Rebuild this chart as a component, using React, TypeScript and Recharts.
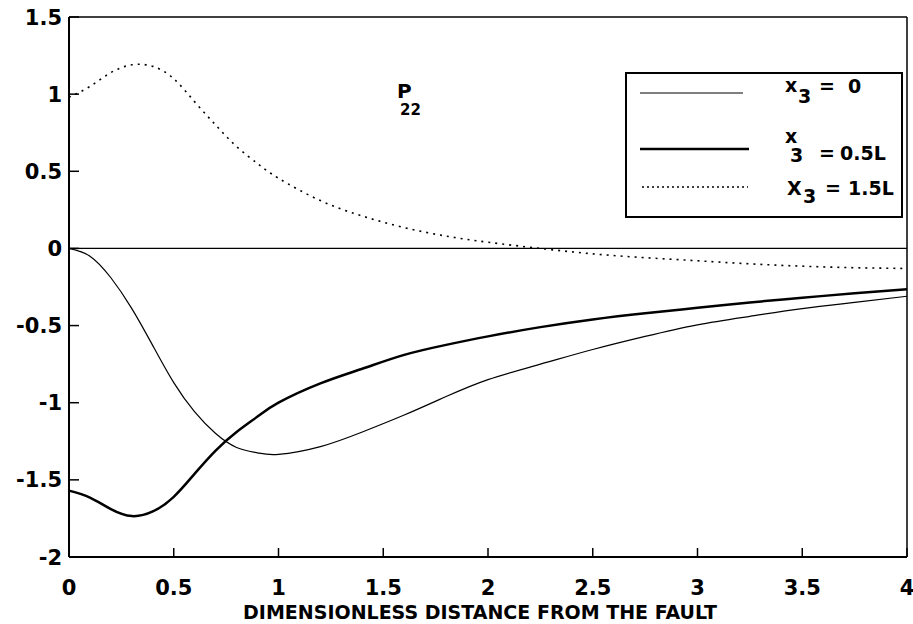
import React from "react";
import { Label, Legend, Line, LineChart, ReferenceLine, XAxis, YAxis } from "recharts";

// distance from the fault (dimensionless)
const distance = [0, 0.1, 0.2, 0.3, 0.4, 0.5, 0.6, 0.7, 0.8, 0.9, 1.0, 1.2, 1.4, 1.6, 1.8, 2.0, 2.25, 2.5, 2.75, 3.0, 3.25, 3.5, 3.75, 4.0];

// P22 at x3 = 0
const p22Surface = [0, -0.05, -0.19, -0.39, -0.63, -0.87, -1.06, -1.2, -1.29, -1.325, -1.335, -1.285, -1.19, -1.08, -0.96, -0.85, -0.75, -0.655, -0.57, -0.495, -0.44, -0.39, -0.35, -0.31];
// P22 at x3 = 0.5L
const p22Half = [-1.57, -1.615, -1.69, -1.735, -1.705, -1.61, -1.46, -1.31, -1.19, -1.09, -1.0, -0.875, -0.78, -0.69, -0.625, -0.57, -0.51, -0.46, -0.42, -0.385, -0.35, -0.32, -0.29, -0.265];
// P22 at x3 = 1.5L
const p22OneHalf = [0.98, 1.05, 1.14, 1.19, 1.18, 1.1, 0.95, 0.8, 0.66, 0.55, 0.455, 0.31, 0.21, 0.135, 0.08, 0.04, 0.0, -0.035, -0.06, -0.08, -0.1, -0.115, -0.125, -0.13];

const xTicks = [0, 0.5, 1, 1.5, 2, 2.5, 3, 3.5, 4];
const yTicks = [1.5, 1, 0.5, 0, -0.5, -1, -1.5, -2];

const legendSymbols = ["x", "x", "X"];
const legendValues = ["0", "0.5L", "1.5L"];

const rows = distance.map((x, i) => ({
  x,
  surface: p22Surface[i],
  half: p22Half[i],
  oneHalf: p22OneHalf[i],
}));

const FONT = "'DejaVu Sans', Arial, sans-serif";

const XTick = (props: any) => {
  const { x, y, payload } = props;
  return (
    <g>
      <line x1={x} x2={x} y1={y} y2={y - 9} stroke="#000" strokeWidth={1.5} />
      <text x={x} y={y + 38} textAnchor="middle" fontFamily={FONT} fontWeight="bold" fontSize={21} fill="#000">
        {String(payload.value)}
      </text>
    </g>
  );
};

const YTick = (props: any) => {
  const { x, y, payload } = props;
  return (
    <g>
      <line x1={x} x2={x + 10} y1={y} y2={y} stroke="#000" strokeWidth={1.5} />
      <text x={x - 7} y={y + 7.5} textAnchor="end" fontFamily={FONT} fontWeight="bold" fontSize={21} fill="#000">
        {String(payload.value)}
      </text>
    </g>
  );
};

const legendRows = [
  { lineY: 21, x1: 15, x2: 118, sym: [160, 20], sub: [173, 31], eq: [194, 21], val: [223, 21], width: 1.2, dash: undefined },
  { lineY: 77, x1: 15, x2: 124, sym: [160, 71], sub: [165, 90], eq: [194, 88], val: [215, 88], width: 2.5, dash: undefined },
  { lineY: 115, x1: 17, x2: 123, sym: [162, 123], sub: [178, 131], eq: [200, 123], val: [223, 123], width: 1.3, dash: "2 3" },
];

const LegendBox = () => (
  <svg width={278} height={146} style={{ display: "block" }}>
    <rect x={1} y={1} width={276} height={144} fill="#fff" stroke="#000" strokeWidth={2} />
    {legendRows.map((r, i) => (
      <g key={i} fontFamily={FONT} fontWeight="bold" fontSize={19} fill="#000">
        <line x1={r.x1} x2={r.x2} y1={r.lineY} y2={r.lineY} stroke="#000" strokeWidth={r.width} strokeDasharray={r.dash} />
        <text x={r.sym[0]} y={r.sym[1]}>{legendSymbols[i]}</text>
        <text x={r.sub[0]} y={r.sub[1]}>3</text>
        <text x={r.eq[0]} y={r.eq[1]}>=</text>
        <text x={r.val[0]} y={r.val[1]}>{legendValues[i]}</text>
      </g>
    ))}
  </svg>
);

export default function App() {
  return (
    <div style={{ position: "absolute", left: 0, top: 0, width: 913, height: 624, background: "#fff" }}>
      <LineChart width={913} height={624} data={rows} margin={{ top: 16, right: 5, bottom: 7, left: 68 }}>
        <XAxis
          dataKey="x"
          type="number"
          domain={[0, 4]}
          ticks={xTicks}
          height={60}
          tickSize={0}
          tickMargin={0}
          tickLine={false}
          tick={<XTick />}
          axisLine={{ stroke: "#000", strokeWidth: 2 }}
          label={
            <Label
              content={(p: any) => {
                const { x, y, width } = p.viewBox;
                return (
                  <text x={x + width / 2 - 8} y={y + 62} textAnchor="middle" fontFamily={FONT} fontWeight="bold" fontSize={19} fill="#000">
                    DIMENSIONLESS DISTANCE FROM THE FAULT
                  </text>
                );
              }}
            />
          }
        />
        <XAxis
          xAxisId="top"
          dataKey="x"
          orientation="top"
          type="number"
          domain={[0, 4]}
          height={1}
          tick={false}
          tickLine={false}
          axisLine={{ stroke: "#000", strokeWidth: 1.5 }}
        />
        <YAxis
          type="number"
          domain={[-2, 1.5]}
          ticks={yTicks}
          width={1}
          tickSize={0}
          tickMargin={0}
          tickLine={false}
          tick={<YTick />}
          axisLine={{ stroke: "#000", strokeWidth: 2 }}
        />
        <YAxis
          yAxisId="right"
          orientation="right"
          type="number"
          domain={[-2, 1.5]}
          width={1}
          tick={false}
          tickLine={false}
          axisLine={{ stroke: "#000", strokeWidth: 1.5 }}
        />
        <ReferenceLine y={0} stroke="#000" strokeWidth={1.3} />
        <Line type="natural" dataKey="surface" name="x3 = 0" stroke="#000" strokeWidth={1.2} dot={false} isAnimationActive={false} />
        <Line type="natural" dataKey="half" name="x3 = 0.5L" stroke="#000" strokeWidth={2.5} dot={false} isAnimationActive={false} />
        <Line type="natural" dataKey="oneHalf" name="X3 = 1.5L" stroke="#000" strokeWidth={1.6} strokeDasharray="2 5" dot={false} isAnimationActive={false} />
        <Legend
          layout="vertical"
          align="center"
          verticalAlign="middle"
          content={<LegendBox />}
          wrapperStyle={{ left: 625, top: 72, width: 278, height: 146 }}
        />
      </LineChart>
      <svg width={60} height={50} style={{ position: "absolute", left: 390, top: 75 }}>
        <text x={7} y={23} fontFamily={FONT} fontWeight="bold" fontSize={20} fill="#000">P</text>
        <text x={10} y={40} fontFamily={FONT} fontWeight="bold" fontSize={15} fill="#000">22</text>
      </svg>
    </div>
  );
}
